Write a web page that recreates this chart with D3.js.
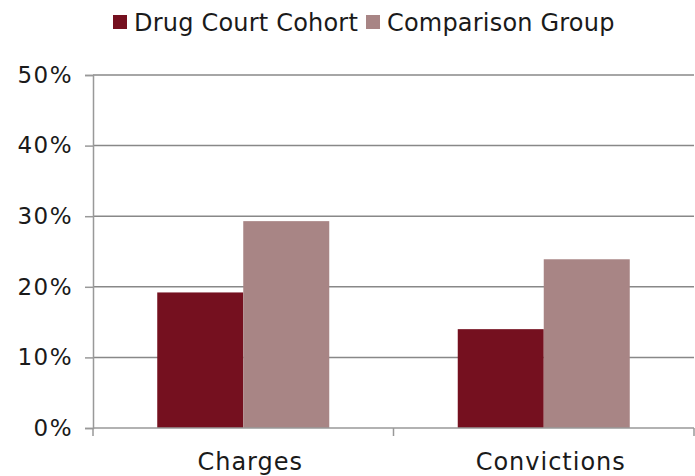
<!DOCTYPE html>
<html>
<head>
<meta charset="utf-8">
<script src="https://cdn.jsdelivr.net/npm/d3@7"></script>
<style>
  body { margin: 0; background: #fff; }
  text { font-family: "DejaVu Sans", sans-serif; fill: #1a1a1a; }
</style>
</head>
<body>
<svg id="chart" width="695" height="476"></svg>
<script>
var categories = ["Charges", "Convictions"];
var seriesNames = ["Drug Court Cohort", "Comparison Group"];
var drugCourt = [0.192, 0.140];
var comparison = [0.293, 0.239];
var yTicks = [0, 0.1, 0.2, 0.3, 0.4, 0.5];

(function() {
    'use strict';

    var colors = ["#75101f", "#a88585"];
    var left = 93, right = 694, top = 75, bottom = 428;

    var svg = d3.select("#chart");

    var x0 = d3.scaleBand().domain(categories).range([left, right]);
    var x1 = d3.scaleBand().domain(seriesNames)
        .range([0, x0.bandwidth()])
        .paddingInner(0).paddingOuter(0.747);
    var y = d3.scaleLinear().domain([0, 0.5]).range([bottom, top]);

    // gridlines
    svg.append("g").selectAll("line")
        .data(yTicks.slice(1))
        .enter().append("line")
        .attr("x1", left).attr("x2", right)
        .attr("y1", function(d) { return y(d); })
        .attr("y2", function(d) { return y(d); })
        .attr("stroke", "#888").attr("stroke-width", 1.5);

    // bars
    var rows = categories.map(function(c, i) {
        return [drugCourt[i], comparison[i]];
    });
    var groups = svg.append("g").selectAll("g")
        .data(rows)
        .enter().append("g")
        .attr("transform", function(d, i) {
            return "translate(" + x0(categories[i]) + ",0)";
        });
    groups.selectAll("rect")
        .data(function(d) { return d; })
        .enter().append("rect")
        .attr("x", function(d, j) { return x1(seriesNames[j]); })
        .attr("width", x1.bandwidth())
        .attr("y", function(d) { return y(d); })
        .attr("height", function(d) { return bottom - y(d); })
        .attr("fill", function(d, j) { return colors[j]; });

    // y axis
    var yAxis = d3.axisLeft(y).tickValues(yTicks)
        .tickFormat(d3.format(".0%")).tickSize(8).tickPadding(12);
    var ya = svg.append("g").attr("transform", "translate(" + left + ",0)").call(yAxis);
    ya.select(".domain").attr("stroke", "#999").attr("stroke-width", 1.5);
    ya.selectAll(".tick line").attr("stroke", "#999").attr("stroke-width", 1.5);
    ya.selectAll(".tick text").attr("font-size", 23).attr("fill", "#1a1a1a")
        .attr("letter-spacing", 1.5)
        .style("font-family", "DejaVu Sans");

    // x axis
    var xa = svg.append("g").attr("transform", "translate(0," + bottom + ")");
    xa.append("line").attr("x1", left).attr("x2", right)
        .attr("stroke", "#999").attr("stroke-width", 1.5);
    xa.selectAll(".ctick")
        .data([left].concat(categories.map(function(c) { return x0(c) + x0.bandwidth(); })))
        .enter().append("line")
        .attr("x1", function(d) { return d; }).attr("x2", function(d) { return d; })
        .attr("y1", 0).attr("y2", 8)
        .attr("stroke", "#999").attr("stroke-width", 1.5);
    xa.selectAll(".clabel")
        .data(categories)
        .enter().append("text")
        .attr("x", function(d) { return x0(d) + x0.bandwidth() / 2 + 7; })
        .attr("y", 42)
        .attr("text-anchor", "middle")
        .attr("font-size", 24)
        .attr("letter-spacing", 1)
        .text(function(d) { return d; });

    // legend
    var legendX = [113, 366];
    var legend = svg.append("g").selectAll("g")
        .data(seriesNames)
        .enter().append("g")
        .attr("transform", function(d, i) { return "translate(" + legendX[i] + ",15)"; });
    legend.append("rect")
        .attr("width", 14).attr("height", 14)
        .attr("fill", function(d, i) { return colors[i]; });
    legend.append("text")
        .attr("x", 21).attr("y", 16)
        .attr("font-size", 24)
        .attr("letter-spacing", 0.2)
        .text(function(d) { return d; });
})();
</script>
</body>
</html>
